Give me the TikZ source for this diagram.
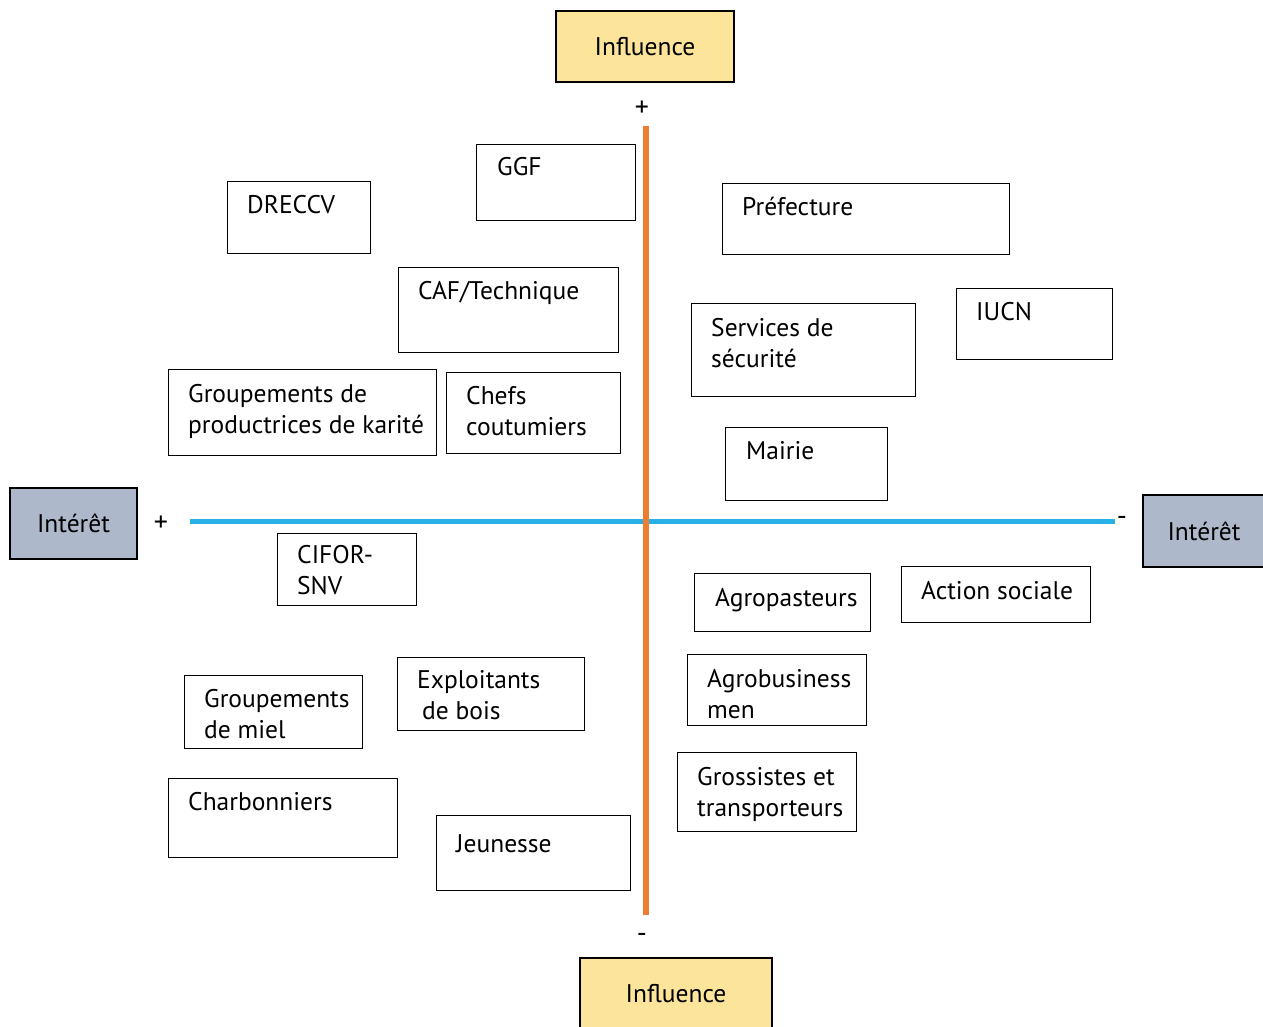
\documentclass[tikz,border=0pt]{standalone}
\usepackage{fontspec}
\setmainfont{PT Sans}
\usetikzlibrary{positioning}
\definecolor{axisorange}{RGB}{237,125,49}
\definecolor{axisblue}{RGB}{41,176,230}
\definecolor{hdryellow}{RGB}{252,228,154}
\definecolor{hdrgrey}{RGB}{173,185,202}
\tikzset{
  actor/.style={rectangle, draw=black, line width=1.2pt,
    anchor=north west, inner sep=0pt},
  % base of a multi-line node is its last line
  actortext/.style={anchor=base west, align=left, inner sep=0pt,
    font=\fontsize{25.5}{31}\selectfont},
  header/.style={rectangle, draw=black, line width=1.2pt, inner sep=0pt,
    font=\fontsize{25.5}{31}\selectfont},
  sign/.style={inner sep=0pt, font=\fontsize{28}{30}\selectfont},
  vaxis/.style={line width=6pt, color=axisorange},
  haxis/.style={line width=5pt, color=axisblue}
}

\begin{document}
\begin{tikzpicture}[x=1pt, y=-1pt]
  \useasboundingbox (0,0) rectangle (1263,1027);
  % axes
  \coordinate (vtop) at (646,126);
  \coordinate (vbot) at (646,915);
  \coordinate (hleft) at (190,521);
  \coordinate (hright) at (1115,521);
  \draw[haxis] (hleft) -- (hright);
  \draw[vaxis] (vtop) -- (vbot);
  % axis headers
  \node[header, fill=hdryellow, minimum width=178, minimum height=71] (inftop) at (645,46.5) {Influence};
  \node[header, fill=hdryellow, minimum width=192, minimum height=72] (infbot) at (676,994) {Influence};
  \node[header, fill=hdrgrey, minimum width=127, minimum height=71] (intleft) at (73.5,523.5) {Intérêt};
  \node[header, fill=hdrgrey, minimum width=122, minimum height=72] (intright) at (1204,531) {Intérêt};
  % signs
  \node[sign] (plustop) at (642,109) {+};
  \node[sign] (minusbot) at (642,938) {-};
  \node[sign] (plusleft) at (161,524) {+};
  \node[sign] (minusright) at (1122,521) {-};
  % upper left
  \node[actor, minimum width=159, minimum height=76] (ggf) at (476,144) {};
  \node[actortext] (ggftxt) at (497,176) {GGF};
  \node[actor, minimum width=143, minimum height=72] (dreccv) at (227,181) {};
  \node[actortext] (dreccvtxt) at (247,213) {DRECCV};
  \node[actor, minimum width=220, minimum height=85] (caf) at (398,267) {};
  \node[actortext] (caftxt) at (418,299) {CAF/Technique};
  \node[actor, minimum width=268, minimum height=86] (karite) at (168,369) {};
  \node[actortext] (karitetxt) at (188,433) {Groupements de\\productrices de karité};
  \node[actor, minimum width=174, minimum height=81] (chefs) at (446,372) {};
  \node[actortext] (chefstxt) at (466,435) {Chefs\\coutumiers};
  % upper right
  \node[actor, minimum width=287, minimum height=71] (prefecture) at (722,183) {};
  \node[actortext] (prefecturetxt) at (742,215) {Préfecture};
  \node[actor, minimum width=224, minimum height=93] (securite) at (691,303) {};
  \node[actortext] (securitetxt) at (711,367) {Services de\\sécurité};
  \node[actor, minimum width=156, minimum height=71] (iucn) at (956,288) {};
  \node[actortext] (iucntxt) at (976,320) {IUCN};
  \node[actor, minimum width=162, minimum height=73] (mairie) at (725,427) {};
  \node[actortext] (mairietxt) at (746,459) {Mairie};
  % lower left
  \node[actor, minimum width=139, minimum height=72] (cifor) at (277,533) {};
  \node[actortext] (cifortxt) at (297,594) {CIFOR-\\SNV};
  \node[actor, minimum width=178, minimum height=73] (miel) at (184,675) {};
  \node[actortext] (mieltxt) at (204,738) {Groupements\\de miel};
  \node[actor, minimum width=187, minimum height=73] (bois) at (397,657) {};
  \node[actortext] (boistxt) at (417,719) {Exploitants\\\hspace*{5pt}de bois};
  \node[actor, minimum width=229, minimum height=79] (charbon) at (168,778) {};
  \node[actortext] (charbontxt) at (188,810) {Charbonniers};
  \node[actor, minimum width=194, minimum height=75] (jeunesse) at (436,815) {};
  \node[actortext] (jeunessetxt) at (456,852) {Jeunesse};
  % lower right
  \node[actor, minimum width=176, minimum height=58] (agropast) at (694,573) {};
  \node[actortext] (agropasttxt) at (715,606) {Agropasteurs};
  \node[actor, minimum width=189, minimum height=56] (sociale) at (901,566) {};
  \node[actortext] (socialetxt) at (921,599) {Action sociale};
  \node[actor, minimum width=179, minimum height=71] (agrobiz) at (687,654) {};
  \node[actortext] (agrobiztxt) at (707,718) {Agrobusiness\\men};
  \node[actor, minimum width=179, minimum height=79] (grossistes) at (677,752) {};
  \node[actortext] (grossistestxt) at (697,816) {Grossistes et\\transporteurs};
\end{tikzpicture}
\end{document}
